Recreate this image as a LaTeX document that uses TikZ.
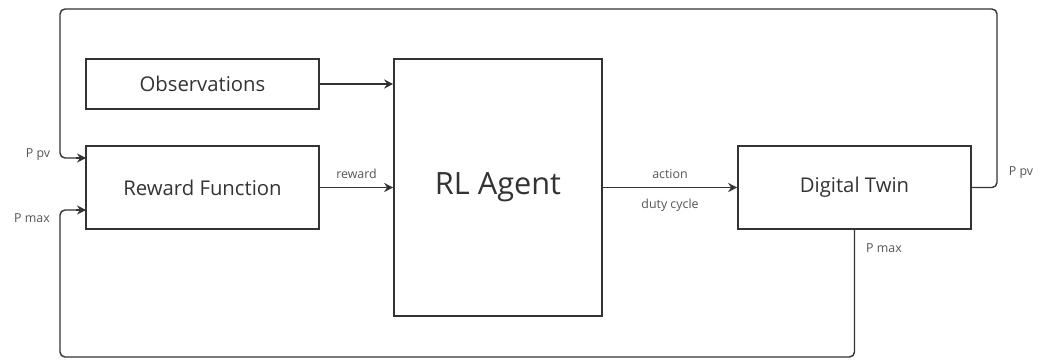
\documentclass[tikz,border=0pt]{standalone}
\usepackage{fontspec}
\setmainfont{Open Sans}
\usetikzlibrary{arrows.meta}
\definecolor{ln}{HTML}{333333}
\definecolor{lbl}{HTML}{555555}
\tikzset{
  blk/.style={draw=ln, line width=1.6pt, inner sep=0pt, text=ln, font=\fontsize{20.3}{24}\selectfont},
  conn/.style={draw=ln, line width=1.4pt, -{Stealth[length=9pt,width=9pt]}},
  loop/.style={draw=ln, line width=1.4pt, rounded corners=5pt},
  lab/.style={text=lbl, font=\fontsize{12.4}{14}\selectfont, inner sep=0pt}
}
\begin{document}
\begin{tikzpicture}[x=1pt,y=-1pt]
\useasboundingbox (0,0) rectangle (1051,360);
\node[blk, minimum width=233pt, minimum height=50pt] (obs) at (202.5,84) {Observations};
\node[blk, minimum width=233pt, minimum height=83pt] (rew) at (202.5,187.5) {Reward Function};
\node[blk, minimum width=208pt, minimum height=257pt, font=\fontsize{30.7}{36}\selectfont] (rl) at (498,187.5) {RL Agent};
\node[blk, minimum width=233pt, minimum height=83pt] (dt) at (854.5,187.5) {Digital Twin};

\draw[conn] (obs.east) -- (obs.east -| rl.west);
\draw[conn] (rew.east) -- (rew.east -| rl.west) node[lab, midway, above=8pt] (lrew) {reward};
\draw[conn] (rl.east |- dt.west) -- (dt.west) node[lab, midway, above=8pt] (lact) {action}
  node[lab, midway, below=11pt] (lduty) {duty cycle};

\coordinate (t1) at (997,187.5);
\coordinate (t2) at (997,9);
\coordinate (t3) at (60,9);
\coordinate (t4) at (60,158);
\coordinate (in1) at (86,158);
\draw[loop] (dt.east) -- (t1) -- (t2) -- (t3) -- (t4) -- (in1);
\draw[conn] ([xshift=-10pt]in1) -- (in1);

\coordinate (b1) at (854.5,357);
\coordinate (b2) at (60,357);
\coordinate (b3) at (60,210);
\coordinate (in2) at (86,210);
\draw[loop] (dt.south) -- (b1) -- (b2) -- (b3) -- (in2);
\draw[conn] ([xshift=-10pt]in2) -- (in2);

\node[lab] (lppv) at (38,155) {P pv};
\node[lab] (lpmax) at (32,218) {P max};
\node[lab] (rppv) at (1021,173) {P pv};
\node[lab] (rpmax) at (884,248) {P max};
\end{tikzpicture}
\end{document}
